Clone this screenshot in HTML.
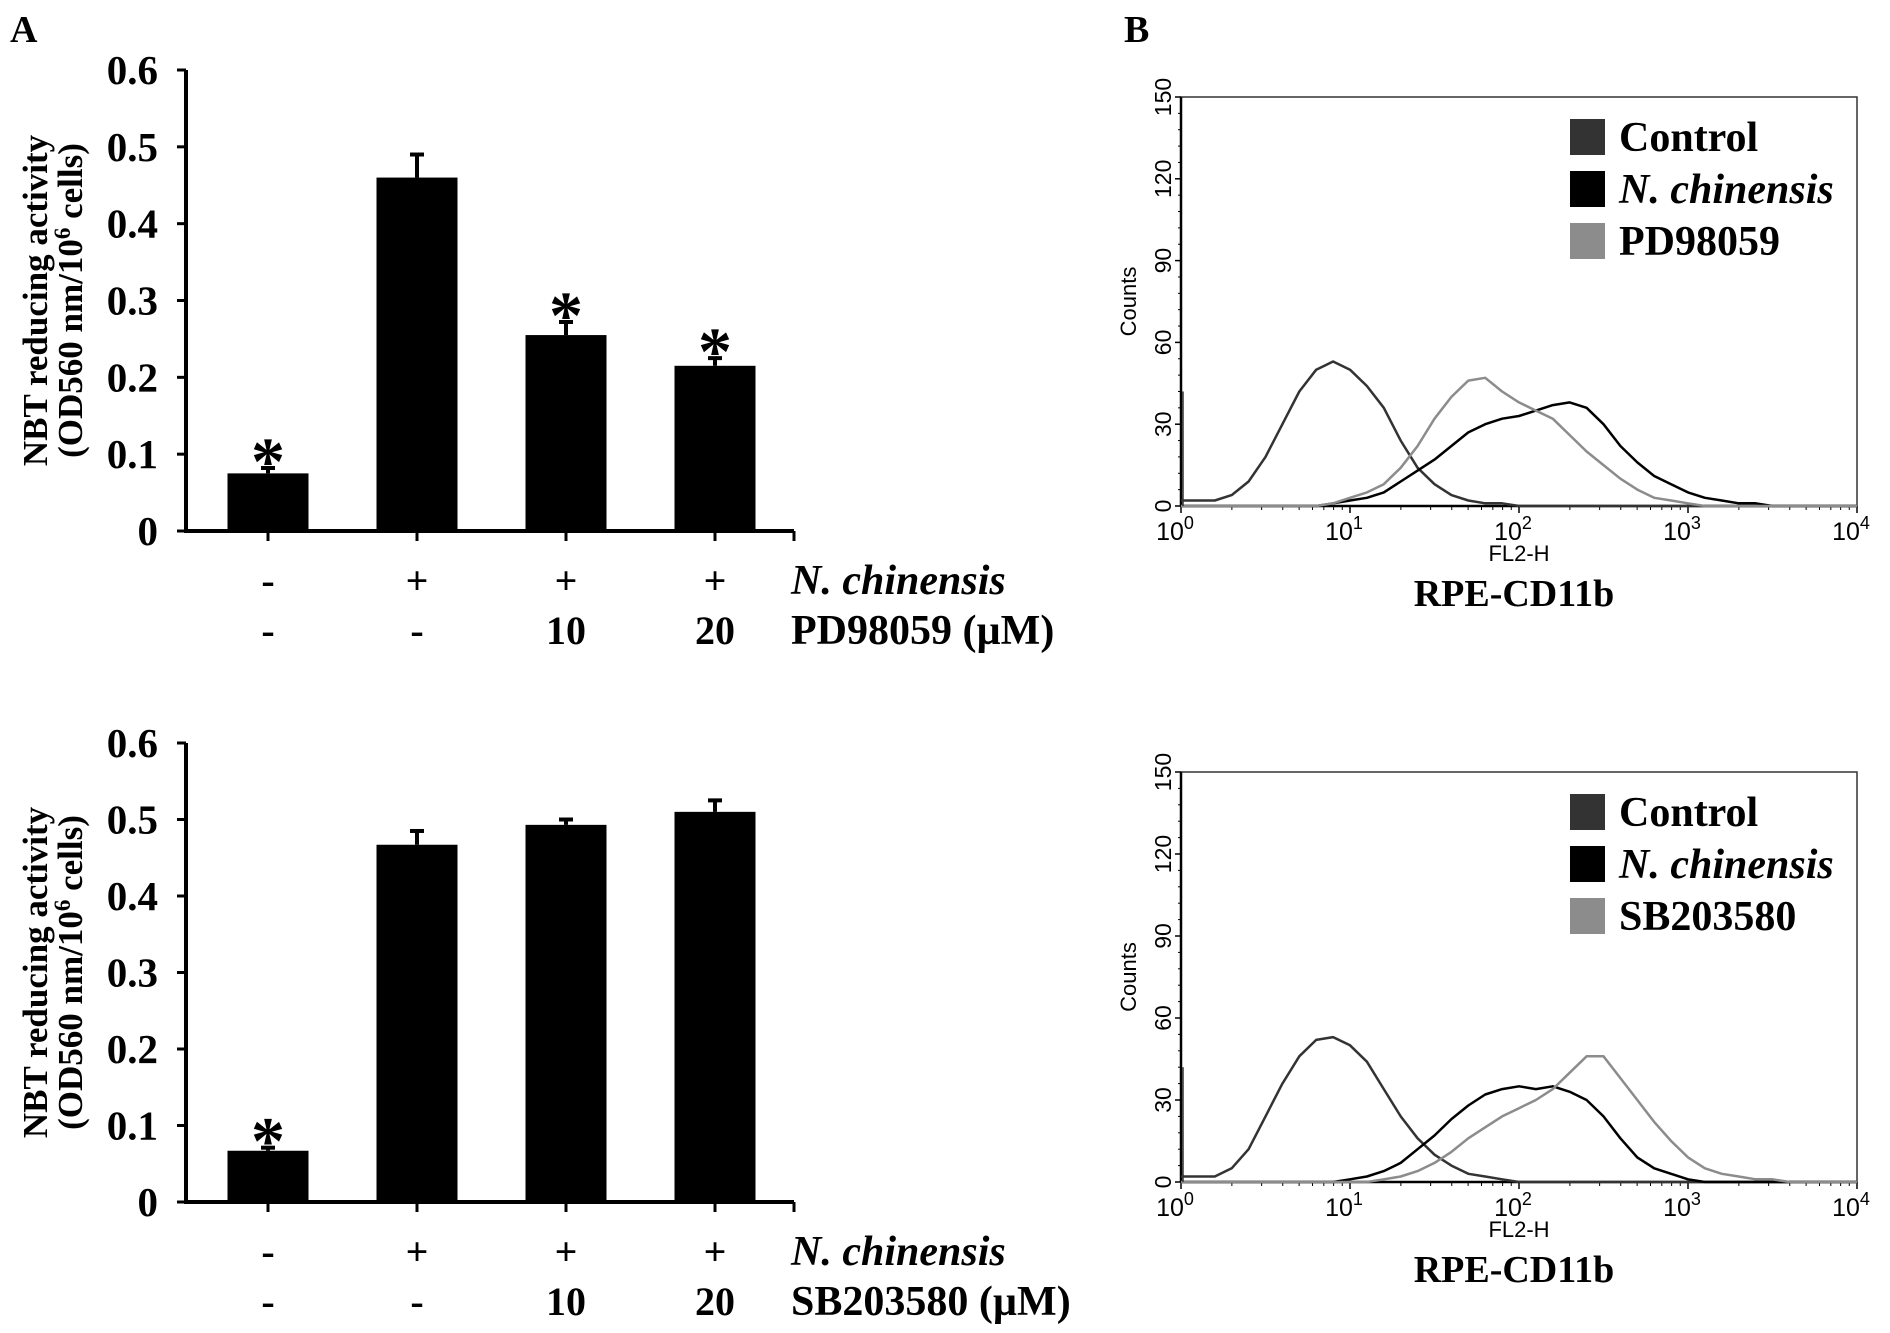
<!DOCTYPE html>
<html><head><meta charset="utf-8"><style>
html,body{margin:0;padding:0;background:#fff;}
svg{display:block;}
.tm{font-family:"Liberation Serif",serif;font-weight:bold;}
.ar{font-family:"Liberation Sans",sans-serif;}
</style></head><body>
<svg id="fig" width="1890" height="1333" viewBox="0 0 1890 1333" xmlns="http://www.w3.org/2000/svg">
<text class="tm" x="10" y="42" font-size="38">A</text>
<text class="tm" x="1124" y="42" font-size="38">B</text>
</svg>
<script>
// ---- Bar chart data ----
const barCategories = ["ctrl", "nc", "nc10", "nc20"];
const pdValues = [0.075, 0.46, 0.255, 0.215];
const pdErrors = [0.007, 0.03, 0.017, 0.01];
const pdStars = [true, false, true, true];
const sbValues = [0.067, 0.467, 0.493, 0.51];
const sbErrors = [0.004, 0.018, 0.007, 0.015];
const sbStars = [true, false, false, false];
const yTicks = [0, 0.1, 0.2, 0.3, 0.4, 0.5, 0.6];
const yTickLabels = ["0", "0.1", "0.2", "0.3", "0.4", "0.5", "0.6"];
const row1Labels = ["-", "+", "+", "+"];
const pdRow2Labels = ["-", "-", "10", "20"];
const sbRow2Labels = ["-", "-", "10", "20"];

// ---- Flow histogram data (log10 FL2-H from 0 to 4 in 0.1 steps) ----
const logBins = [0,0.1,0.2,0.3,0.4,0.5,0.6,0.7,0.8,0.9,1.0,1.1,1.2,1.3,1.4,1.5,1.6,1.7,1.8,1.9,2.0,2.1,2.2,2.3,2.4,2.5,2.6,2.7,2.8,2.9,3.0,3.1,3.2,3.3,3.4,3.5,3.6,3.7,3.8,3.9,4.0];
const flowYTicks = [0, 30, 60, 90, 120, 150];
const flowXTicks = [0, 1, 2, 3, 4];
const ctrl1 = [2,2,2,4,9,18,30,42,50,53,50,44,36,24,14,8,4,2,1,1,0,0,0,0,0,0,0,0,0,0,0,0,0,0,0,0,0,0,0,0,0];
const nc1 = [0,0,0,0,0,0,0,0,0,1,2,3,5,9,13,17,22,27,30,32,33,35,37,38,36,30,22,16,11,8,5,3,2,1,1,0,0,0,0,0,0];
const pd1 = [0,0,0,0,0,0,0,0,0,1,3,5,8,14,22,32,40,46,47,42,38,35,32,26,20,15,10,6,3,2,1,0,0,0,0,0,0,0,0,0,0];
const ctrl2 = [2,2,2,5,12,24,36,46,52,53,50,44,34,24,16,10,6,3,2,1,0,0,0,0,0,0,0,0,0,0,0,0,0,0,0,0,0,0,0,0,0];
const nc2 = [0,0,0,0,0,0,0,0,0,0,1,2,4,7,12,17,23,28,32,34,35,34,35,33,30,24,16,9,5,3,1,0,0,0,0,0,0,0,0,0,0];
const sb2 = [0,0,0,0,0,0,0,0,0,0,0,0,1,2,4,7,11,16,20,24,27,30,34,40,46,46,38,30,22,15,9,5,3,2,1,1,0,0,0,0,0];

const NS = "http://www.w3.org/2000/svg";
const svg = document.getElementById('fig');
function mk(tag, attrs, parent, text) {
  const e = document.createElementNS(NS, tag);
  for (const k in attrs) e.setAttribute(k, attrs[k]);
  if (text !== undefined) e.textContent = text;
  (parent || svg).appendChild(e);
  return e;
}

function barChart(top, bottom, values, errors, stars, row2, drugLabel, prefix) {
  const g = mk('g', {});
  
  
  const x0 = 186, x1 = 794;
  const y = v => bottom - (v / 0.6) * (bottom - top);
  const centers = barCategories.map((c, i) => 268 + i * 149);
  const bw = 81;
  const ax = mk('line', {x1: x0, y1: top, x2: x0, y2: bottom, stroke: '#000', 'stroke-width': 4}, g);
   
  const bx = mk('line', {x1: x0 - 2, y1: bottom, x2: x1, y2: bottom, stroke: '#000', 'stroke-width': 4}, g);
   
  mk('line', {x1: x1, y1: bottom, x2: x1, y2: bottom + 10, stroke: '#000', 'stroke-width': 3}, g);
  yTicks.forEach((t, i) => {
    mk('line', {x1: x0 - 9, y1: y(t), x2: x0, y2: y(t), stroke: '#000', 'stroke-width': 3}, g);
    const tl = mk('text', {class: 'tm', x: 158, y: y(t) + 14, 'font-size': 41, 'text-anchor': 'end'}, g, yTickLabels[i]);
     
  });
  centers.forEach((cx, i) => {
    mk('line', {x1: cx, y1: bottom, x2: cx, y2: bottom + 10, stroke: '#000', 'stroke-width': 3}, g);
    const r = mk('rect', {x: cx - bw / 2, y: y(values[i]), width: bw, height: bottom - y(values[i]), fill: '#000'}, g);
     
    const ye = y(values[i] + errors[i]);
    mk('line', {x1: cx, y1: y(values[i]), x2: cx, y2: ye, stroke: '#000', 'stroke-width': 4}, g);
    mk('line', {x1: cx - 7, y1: ye, x2: cx + 7, y2: ye, stroke: '#000', 'stroke-width': 4}, g);
    if (stars[i]) {
      const s = mk('text', {class: 'tm', x: cx, y: ye + 16, 'font-size': 68, 'text-anchor': 'middle'}, g, '*');
       
    }
    const l1 = mk('text', {class: 'tm', x: cx, y: bottom + 63, 'font-size': 40, 'text-anchor': 'middle'}, g, row1Labels[i]);
     
    const l2 = mk('text', {class: 'tm', x: cx, y: bottom + 113, 'font-size': 40, 'text-anchor': 'middle'}, g, row2[i]);
     
  });
  const r1 = mk('text', {class: 'tm', x: 791, y: bottom + 63, 'font-size': 42, 'font-style': 'italic'}, g, 'N. chinensis');
   
  const r2 = mk('text', {class: 'tm', x: 791, y: bottom + 113, 'font-size': 42}, g, drugLabel);
   
  const cy = (top + bottom) / 2;
  const t1 = mk('text', {class: 'tm', x: 0, y: 0, 'font-size': 35, 'text-anchor': 'middle', transform: `translate(47 ${cy}) rotate(-90)`}, g, 'NBT reducing activity');
   
  const t2 = mk('text', {class: 'tm', x: 0, y: 0, 'font-size': 35, 'text-anchor': 'middle', transform: `translate(82 ${cy}) rotate(-90)`}, g);
   
  t2.appendChild(document.createTextNode('(OD560 nm/10'));
  mk('tspan', {dy: -12, 'font-size': 23}, t2, '6');
  mk('tspan', {dy: 12}, t2, ' cells)');
}

function flowPlot(top, bottom, series, colors, names, prefix) {
  const g = mk('g', {});
  
  
  const left = 1181, right = 1857;
  const xs = l => left + (l / 4) * (right - left);
  const ys = c => bottom - (c / 150) * (bottom - top);
  const frame = mk('rect', {x: left, y: top, width: right - left, height: bottom - top, fill: 'none', stroke: '#333', 'stroke-width': 1.5}, g);
   
  mk('line', {x1: left, y1: top, x2: left, y2: bottom, stroke: '#000', 'stroke-width': 2.5}, g);
  mk('line', {x1: left, y1: bottom, x2: right, y2: bottom, stroke: '#000', 'stroke-width': 2.5}, g);
  flowYTicks.forEach(t => {
    mk('line', {x1: left - 6, y1: ys(t), x2: left, y2: ys(t), stroke: '#000', 'stroke-width': 1.5}, g);
    const tl = mk('text', {class: 'ar', x: 0, y: 0, 'font-size': 23, 'text-anchor': 'middle', transform: `translate(${left - 10} ${ys(t)}) rotate(-90)`}, g, String(t));
     
  });
  for (let t = 0; t < 150; t += 6) mk('line', {x1: left - 3, y1: ys(t), x2: left, y2: ys(t), stroke: '#000', 'stroke-width': 1}, g);
  flowXTicks.forEach(t => {
    mk('line', {x1: xs(t), y1: bottom, x2: xs(t), y2: bottom + 7, stroke: '#000', 'stroke-width': 1.5}, g);
    if (t < 4) for (let k = 2; k < 10; k++) {
      const xx = xs(t + Math.log10(k));
      mk('line', {x1: xx, y1: bottom, x2: xx, y2: bottom + 4, stroke: '#000', 'stroke-width': 1}, g);
    }
    const tl = mk('text', {class: 'ar', x: xs(t) - 6, y: bottom + 34, 'font-size': 25, 'text-anchor': 'middle'}, g, '10');
     
    mk('tspan', {dy: -11, 'font-size': 18}, tl, String(t));
  });
  const xl = mk('text', {class: 'ar', x: (left + right) / 2, y: bottom + 55, 'font-size': 22, 'text-anchor': 'middle'}, g, 'FL2-H');
   
  const yl = mk('text', {class: 'ar', x: 0, y: 0, 'font-size': 22, 'text-anchor': 'middle', transform: `translate(1136 ${ys(75)}) rotate(-90)`}, g, 'Counts');
   
  const mt = mk('text', {class: 'tm', x: (left + right) / 2 - 5, y: bottom + 100, 'font-size': 38, 'text-anchor': 'middle'}, g, 'RPE-CD11b');
   
  series.forEach((s, si) => {
    let d = '';
    s.forEach((v, i) => { d += (i ? 'L' : 'M') + xs(logBins[i]).toFixed(1) + ' ' + ys(v).toFixed(1); });
    const p = mk('path', {d: d, fill: 'none', stroke: colors[si], 'stroke-width': 2.5, 'stroke-linejoin': 'round'}, g);
    
    
  });
  mk('line', {x1: left + 2, y1: bottom, x2: left + 2, y2: ys(42), stroke: '#333', 'stroke-width': 1.5}, g);
  names.forEach((n, i) => {
    const ly = top + 40 + i * 52;
    const sw = mk('rect', {x: 1570, y: ly - 18, width: 35, height: 36, fill: colors[i]}, g);
     
    const lt = mk('text', {class: 'tm', x: 1619, y: ly + 14, 'font-size': 42, 'font-style': i === 1 ? 'italic' : 'normal'}, g, n);
     
  });
}

barChart(70, 531, pdValues, pdErrors, pdStars, pdRow2Labels, 'PD98059 (\u00b5M)', 'pd98059');
barChart(743, 1202, sbValues, sbErrors, sbStars, sbRow2Labels, 'SB203580 (\u00b5M)', 'sb203580');
flowPlot(97, 506, [ctrl1, nc1, pd1], ['#333333', '#000000', '#8c8c8c'], ['Control', 'N. chinensis', 'PD98059'], 'pd98059');
flowPlot(772, 1182, [ctrl2, nc2, sb2], ['#333333', '#000000', '#8c8c8c'], ['Control', 'N. chinensis', 'SB203580'], 'sb203580');
</script>
</body></html>
